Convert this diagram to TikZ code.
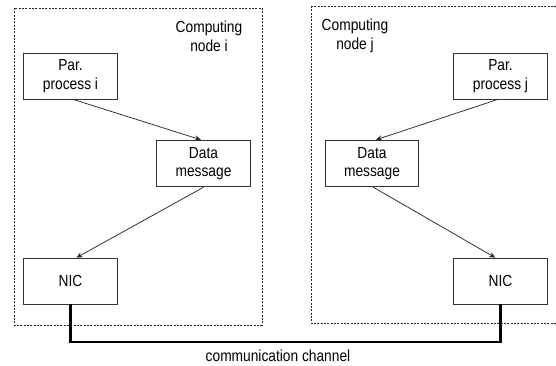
\documentclass[tikz,border=0pt]{standalone}
\usepackage{fontspec}
\newfontfamily\lab{Liberation Sans}[FakeStretch=0.86]
\usetikzlibrary{arrows.meta}
\begin{document}
\begin{tikzpicture}[x=0.75pt,y=-0.75pt,
  txt/.style={font=\lab\fontsize{12}{14}\selectfont,align=center,inner sep=0pt},
  unit/.style={txt,draw=black!80,line width=0.6pt,rectangle,minimum width=71pt,minimum height=34.5pt},
  frame/.style={draw=black!85,line width=0.6pt,dash pattern=on 1.6pt off 0.9pt},
  flow/.style={draw=black!85,line width=0.55pt,-{Stealth[length=4.5pt,width=4pt]}},
  wire/.style={draw=black,line width=2pt}]
\useasboundingbox (0,0) rectangle (556,365);
\clip (0,0) rectangle (556,365);
% computing node frames
\draw[frame] (14,8) rectangle (262,325);
\draw[frame] (311,6) rectangle (570,323);
\node[txt] (ci) at (209,36) {Computing\\node i};
\node[txt] (cj) at (355,36) {Computing\\node j};
% node i
\node[unit] (pari) at (70.5,76) {Par.\\process i};
\node[unit,minimum width=70pt,minimum height=35pt] (datai) at (203.5,163.5) {Data\\message};
\node[unit] (nici) at (70.5,281) {NIC};
% node j
\node[unit] (parj) at (500.5,76) {Par.\\process j};
\node[unit,minimum width=70pt,minimum height=35pt] (dataj) at (372,163.5) {Data\\message};
\node[unit] (nicj) at (500.5,281) {NIC};
% message flow
\draw[flow] ([xshift=2pt]pari.south) -- ([xshift=-2pt]datai.north);
\draw[flow] (datai.south) -- ([xshift=4.5pt]nici.north);
\draw[flow] ([xshift=-2pt]parj.south) -- ([xshift=3pt]dataj.north);
\draw[flow] ([xshift=1pt]dataj.south) -- ([xshift=-4pt]nicj.north);
% communication channel
\coordinate (chan) at (278,342);
\draw[wire] (nici.south) -- (nici.south |- chan) -| (nicj.south);
\node[txt] (chanlab) at (278,356) {communication channel};
\end{tikzpicture}
\end{document}
